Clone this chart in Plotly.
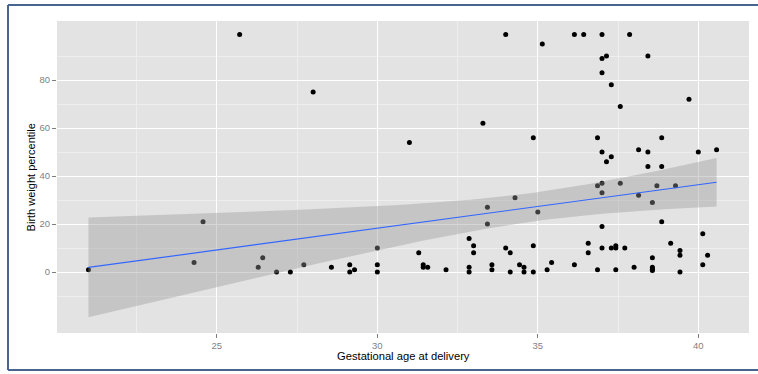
import numpy as np
import plotly.graph_objects as go

# Gestational age at delivery (weeks) and birth weight percentile
gest_age = [
    21.0, 24.29, 24.57, 25.71, 26.29, 26.43, 26.86, 27.29, 27.71, 28.0,
    28.57, 29.14, 29.14, 29.29, 30.0, 30.0, 30.0, 31.0, 31.29, 31.43,
    31.43, 31.57, 32.14, 32.86, 32.86, 32.86, 33.0, 33.0, 33.29, 33.43,
    33.43, 33.57, 33.57, 34.0, 34.0, 34.14, 34.14, 34.29, 34.43, 34.57,
    34.57, 34.86, 34.86, 34.86, 35.0, 35.14, 35.29, 35.43, 36.14, 36.14,
    36.43, 36.57, 36.57, 36.86, 36.86, 36.86, 37.0, 37.0, 37.0, 37.0,
    37.0, 37.0, 37.0, 37.0, 37.14, 37.14, 37.29, 37.29, 37.29, 37.43,
    37.43, 37.43, 37.57, 37.57, 37.71, 37.86, 38.0, 38.14, 38.14, 38.43,
    38.43, 38.43, 38.57, 38.57, 38.57, 38.57, 38.57, 38.71, 38.86, 38.86,
    38.86, 39.14, 39.29, 39.43, 39.43, 39.43, 39.71, 40.0, 40.14, 40.14,
    40.29, 40.57,
]
bw_percentile = [
    1, 4, 21, 99, 2, 6, 0, 0, 3, 75,
    2, 3, 0, 1, 10, 3, 0, 54, 8, 3,
    2, 2, 1, 14, 2, 0, 11, 8, 62, 27,
    20, 3, 1, 99, 10, 8, 0, 31, 3, 2,
    0, 56, 11, 0, 25, 95, 1, 4, 3, 99,
    99, 12, 8, 56, 36, 1, 99, 89, 83, 50,
    37, 33, 19, 10, 90, 46, 78, 48, 10, 11,
    10, 1, 69, 37, 10, 99, 2, 51, 32, 90,
    50, 44, 29, 6, 2, 1.2, 0.6, 36, 56, 44,
    21, 12, 36, 9, 7, 0, 72, 50, 16, 3,
    7, 51,
]

x_ticks = [25, 30, 35, 40]
y_ticks = [0, 20, 40, 60, 80]
x_minor = [22.5, 27.5, 32.5, 37.5]
y_minor = [-10, 10, 30, 50, 70, 90]

# linear fit with 95% confidence band (as geom_smooth(method="lm"))
x = np.array(gest_age, dtype=float)
y = np.array(bw_percentile, dtype=float)
n = len(x)
slope, intercept = np.polyfit(x, y, 1)
resid = y - (intercept + slope * x)
s = np.sqrt(np.sum(resid ** 2) / (n - 2))
xbar = x.mean()
sxx = np.sum((x - xbar) ** 2)
T975 = 1.984
xf = np.linspace(x.min(), x.max(), 80)
yf = intercept + slope * xf
se = s * np.sqrt(1.0 / n + (xf - xbar) ** 2 / sxx)
upper = yf + T975 * se
lower = yf - T975 * se

fig = go.Figure()
fig.add_trace(go.Scatter(
    x=gest_age, y=bw_percentile, mode="markers",
    marker=dict(color="black", size=5), hoverinfo="x+y", showlegend=False))
fig.add_trace(go.Scatter(
    x=xf, y=upper, mode="lines", line=dict(width=0, color="rgba(0,0,0,0)"),
    showlegend=False, hoverinfo="skip"))
fig.add_trace(go.Scatter(
    x=xf, y=lower, mode="lines", line=dict(width=0, color="rgba(0,0,0,0)"),
    fill="tonexty", fillcolor="rgba(153,153,153,0.4)",
    showlegend=False, hoverinfo="skip"))
fig.add_trace(go.Scatter(
    x=xf, y=yf, mode="lines", line=dict(color="#3366FF", width=1.2),
    showlegend=False, hoverinfo="skip"))

FONT = "Liberation Sans, Arial, Helvetica, sans-serif"
axis_common = dict(
    showline=False, zeroline=False, ticks="outside", ticklen=4,
    tickcolor="#7f7f7f", tickwidth=1,
    tickfont=dict(family=FONT, size=9.5, color="#7f7f7f"),
    showgrid=True, gridcolor="#FFFFFF", gridwidth=1.3,
)

BORDER = dict(color="#4a6490", width=2)
px0, py_top, py_bot, px_end = (8 - 57) / 692, (333 - 5) / 312, (333 - 370) / 312, (800 - 57) / 692

fig.update_layout(
    width=758, height=374,
    margin=dict(l=57, r=9, t=21, b=41),
    paper_bgcolor="white", plot_bgcolor="#E3E3E3",
    font=dict(family=FONT),
    xaxis=dict(range=[20.02, 41.58], tickmode="array", tickvals=x_ticks,
               minor=dict(tickmode="array", tickvals=x_minor, showgrid=True,
                          gridcolor="#EEEEEE", gridwidth=0.8, ticks=""),
               **axis_common),
    yaxis=dict(range=[-25.4, 104.6], tickmode="array", tickvals=y_ticks,
               minor=dict(tickmode="array", tickvals=y_minor, showgrid=True,
                          gridcolor="#EEEEEE", gridwidth=0.8, ticks=""),
               **axis_common),
    annotations=[
        dict(text="Gestational age at delivery", xref="paper", yref="paper",
             x=0.5, y=-0.074, xanchor="center", yanchor="middle",
             showarrow=False, font=dict(family=FONT, size=11.2, color="black")),
        dict(text="Birth weight percentile", xref="paper", yref="paper",
             x=-0.037, y=0.5, xanchor="center", yanchor="middle", textangle=-90,
             showarrow=False, font=dict(family=FONT, size=11, color="black")),
    ],
    shapes=[
        dict(type="line", xref="paper", yref="paper", x0=px0, x1=px0,
             y0=py_bot, y1=py_top, line=BORDER, layer="below"),
        dict(type="line", xref="paper", yref="paper", x0=px0, x1=px_end,
             y0=py_top, y1=py_top, line=BORDER, layer="below"),
        dict(type="line", xref="paper", yref="paper", x0=px0, x1=px_end,
             y0=py_bot, y1=py_bot, line=BORDER, layer="below"),
    ],
)

fig.write_html(
    "out.html",
    config={"displayModeBar": False},
    post_script="document.body.style.margin='0';document.body.style.overflow='hidden';",
)
